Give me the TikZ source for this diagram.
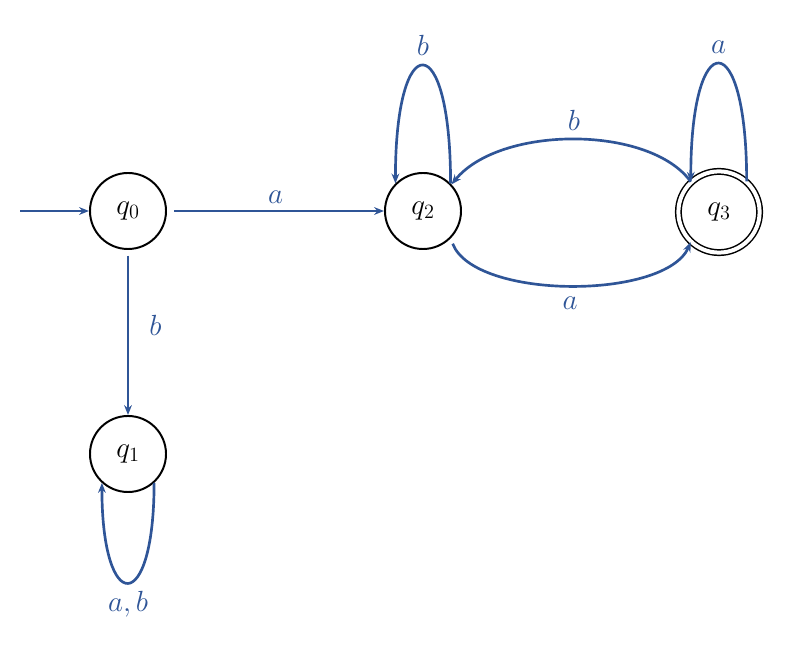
\documentclass[tikz,border=0pt]{standalone}
\usepackage{amsmath}
\usepackage{xcolor}
\usepackage{tikz}
\usetikzlibrary{arrows.meta, positioning}

\definecolor{transblue}{RGB}{47,85,151}

\begin{document}
\begin{tikzpicture}[
  x=0.025cm, y=-0.025cm,
  statenode/.style={
    draw, circle, minimum size=1.9cm, inner sep=0pt, line width=1.4pt,
    font=\fontsize{22}{26}\selectfont
  },
  acceptnode/.style={
    statenode, minimum size=2.03cm, line width=1.05pt, double, double distance=0.1cm
  },
  trans/.style={-{Stealth[length=7pt,width=5.5pt]}, line width=1.9pt, color=transblue},
  lbl/.style={font=\fontsize{22}{26}\selectfont, text=transblue}
]
\useasboundingbox (0,0) rectangle (798,655);

% --- States ---
\node[statenode] (q0) at (128,211) {$q_0$};
\node[statenode] (q1) at (128,454) {$q_1$};
\node[statenode] (q2) at (423,211) {$q_2$};
\node[acceptnode] (q3) at (719,212) {$q_3$};
\coordinate (start) at (20,211);

% --- Straight transitions ---
\draw[trans] (start) -- (q0.west);
\draw[trans, shorten <=5pt] (q0.east) -- (q2.west) node[midway, above, lbl, yshift=1pt] {$a$};
\draw[trans, shorten <=4pt] (q0.south) -- (q1.north) node[midway, right, lbl, xshift=11pt, yshift=5pt] {$b$};

% --- Loops ---
\draw[trans] (q1.-48) .. controls +(0,133) and +(0,133) .. (q1.-132) node[pos=0.5, below, lbl, yshift=-2pt] {$a,b$};
\draw[trans] (q2.45) .. controls +(0,-157) and +(0,-157) .. (q2.135) node[pos=0.5, above, lbl, yshift=3pt] {$b$};
\draw[trans] (q3.48) .. controls +(0,-157) and +(0,-157) .. (q3.133) node[pos=0.5, above, lbl, yshift=3pt] {$a$};

% --- Between q2 and q3 ---
\draw[trans] (q3.133) .. controls (650,125) and (500,125) .. (q2.43) node[pos=0.5, above, lbl, yshift=2pt] {$b$};
\draw[trans, shorten <=4pt] (q2.-45) .. controls (475,300) and (665,300) .. (q3.-133) node[pos=0.5, below, lbl, yshift=-4pt] {$a$};

\end{tikzpicture}
\end{document}
